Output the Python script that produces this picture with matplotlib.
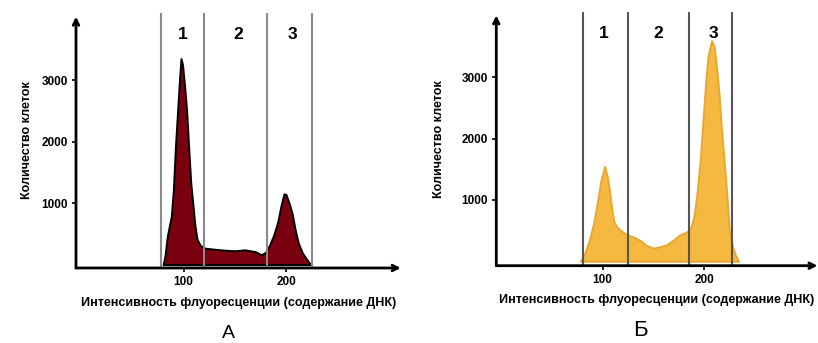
import matplotlib.pyplot as plt

plt.rcParams['font.family'] = ['Liberation Sans', 'DejaVu Sans']

# Данные
a_x = [80, 82, 84, 86, 88, 90, 92, 94, 96, 97.5, 99, 101, 103, 105, 107, 109, 111, 113,
       116, 120, 130, 140, 150, 160, 170, 176, 180, 184, 188, 192, 195, 198, 200, 203,
       206, 209, 212, 216, 220, 224]
a_y = [0, 150, 450, 620, 780, 1200, 1900, 2450, 3000, 3350, 3250, 2900, 2500, 1900, 1330,
       1000, 650, 420, 320, 270, 250, 235, 225, 240, 210, 160, 200, 320, 480, 700, 950,
       1150, 1140, 1000, 830, 560, 350, 190, 90, 0]

b_x = [78, 82, 87, 91, 94, 98, 102, 105, 107, 109, 111, 114, 118, 124, 130, 137, 143, 150,
       157, 163, 170, 176, 183, 187, 190, 193, 196, 199, 202, 204, 207.5, 210, 212.5, 215,
       217, 219, 222, 225, 228, 231, 234]
b_y = [0, 120, 350, 620, 890, 1300, 1550, 1350, 1110, 850, 650, 560, 500, 430, 400, 340,
       260, 215, 240, 270, 350, 430, 480, 550, 720, 1100, 1600, 2300, 3000, 3350, 3600,
       3500, 3150, 2700, 2200, 1800, 1200, 500, 250, 100, 0]

a_gates = [78, 120, 181, 225]
b_gates = [81, 124.5, 185, 227.5]
a_label_x = [99, 153, 206]
b_label_x = [101, 154.5, 209]
region_labels = ["1", "2", "3"]
y_ticks = [1000, 2000, 3000]
x_ticks = [100, 200]

xlabel = "Интенсивность флуоресценции (содержание ДНК)"
ylabel = "Количество клеток"

fig = plt.figure(figsize=(8.18, 3.43), dpi=100)


def draw_panel(rect, xs, ys, gates, label_xs, ylim, face, edge, gate_color, panel, panel_pos, panel_size, ypad):
    ax = fig.add_axes(rect)
    x0, x1 = -5, 312
    y0, ytop = ylim
    ax.set_xlim(x0, x1)
    ax.set_ylim(y0, ytop)
    ax.fill_between(xs, ys, 0, facecolor=face, edgecolor=edge, linewidth=1.4, zorder=2)
    for g in gates:
        ax.plot([g, g], [y0, ytop], color=gate_color, linewidth=1.5, zorder=3)
    for lx, t in zip(label_xs, region_labels):
        ax.text(lx, ytop - 350, t, ha='center', va='center', fontsize=12.5, fontweight='bold')
    # оси со стрелками
    ax.annotate('', xy=(x1, y0), xytext=(x0, y0),
                arrowprops=dict(arrowstyle='->', lw=2, color='black', shrinkA=0, shrinkB=0))
    ax.annotate('', xy=(x0, ytop - 60), xytext=(x0, y0),
                arrowprops=dict(arrowstyle='->', lw=2, color='black', shrinkA=0, shrinkB=0))
    for s in ax.spines.values():
        s.set_visible(False)
    ax.set_yticks(y_ticks)
    ax.set_yticklabels([str(v) for v in y_ticks], fontsize=8.5, fontweight='bold')
    ax.set_xticks(x_ticks)
    ax.set_xticklabels([str(v) for v in x_ticks], fontsize=8.5, fontweight='bold')
    ax.tick_params(axis='both', length=3, width=1.2, pad=3)
    ax.set_xlabel(xlabel, fontsize=9, fontweight='bold', labelpad=6)
    ax.set_ylabel(ylabel, fontsize=9, fontweight='bold', labelpad=ypad)
    ax.patch.set_visible(False)
    fig.text(panel_pos[0], panel_pos[1], panel, ha='center', va='center', fontsize=panel_size)
    return ax


draw_panel([0.0929, 0.2187, 0.397, 0.7434], a_x, a_y, a_gates, a_label_x, (-55, 4090),
           '#7a0010', 'black', '#8a8a8a', 'А', (228 / 818, 1 - 333 / 343), 14, 6)
draw_panel([0.6067, 0.2254, 0.3927, 0.7405], b_x, b_y, b_gates, b_label_x, (-72, 4072),
           '#f5b942', '#e8a830', '#555555', 'Б', (640 / 818, 1 - 330 / 343), 16, 12)

fig.savefig("out.png", dpi=100)
